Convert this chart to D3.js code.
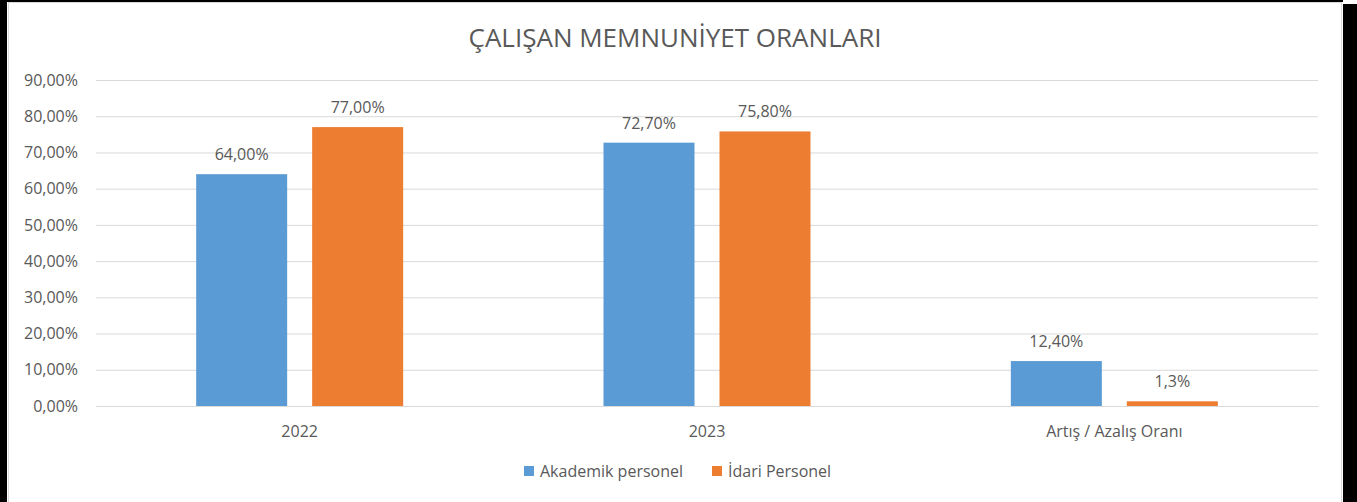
<!DOCTYPE html>
<html>
<head>
<meta charset="utf-8">
<script src="https://cdn.jsdelivr.net/npm/d3@7"></script>
<style>
  body { margin: 0; background: #fff; }
  svg text { font-family: "Open Sans", sans-serif; fill: #595959; }
</style>
</head>
<body>
<div id="chart"></div>
<script>
// chart data
var categories = ["2022", "2023", "Artış / Azalış Oranı"];
var seriesNames = ["Akademik personel", "İdari Personel"];
var akademik = [64.0, 72.7, 12.4];
var idari = [77.0, 75.8, 1.3];
var akademikLabels = ["64,00%", "72,70%", "12,40%"];
var idariLabels = ["77,00%", "75,80%", "1,3%"];
var yTicks = [0, 10, 20, 30, 40, 50, 60, 70, 80, 90];
var colors = ["#5B9BD5", "#ED7D31"];

var svgWidth = 1357;
var svgHeight = 502;

var svg = d3.select("#chart")
  .append("svg")
  .attr("width", svgWidth)
  .attr("height", svgHeight);

// black frame / shadow around the chart
svg.append("rect").attr("x", 0).attr("y", 0).attr("width", 7).attr("height", svgHeight).attr("fill", "#000");
svg.append("rect").attr("x", 0).attr("y", 0).attr("width", 1343).attr("height", 2).attr("fill", "#000");
svg.append("rect").attr("x", 1343).attr("y", 4).attr("width", 14).attr("height", svgHeight).attr("fill", "#000");

// chart area border
svg.append("rect")
  .attr("x", 8.5).attr("y", 2.5)
  .attr("width", 1333).attr("height", 520)
  .attr("fill", "#fff")
  .attr("stroke", "#d9d9d9");

var margin = { top: 80, left: 96, right: 39, bottom: 96 };
var chartWidth = svgWidth - margin.left - margin.right;
var chartHeight = 406 - margin.top;

var chartGroup = svg.append("g")
  .attr("transform", `translate(${margin.left},${margin.top})`);

var xScale = d3.scaleBand()
  .domain(categories)
  .range([0, chartWidth]);

var xInner = d3.scaleBand()
  .domain(seriesNames)
  .range([xScale.bandwidth() / 2 - 103.5, xScale.bandwidth() / 2 + 103.5])
  .paddingInner(0.2155);

var yScale = d3.scaleLinear()
  .domain([0, 90])
  .range([chartHeight, 0]);

// gridlines
var grid = d3.axisLeft(yScale)
  .tickValues(yTicks)
  .tickSize(-chartWidth)
  .tickFormat(d => d3.format(".2f")(d).replace(".", ",") + "%")
  .tickPadding(18);

var gy = chartGroup.append("g").call(grid);
gy.select(".domain").remove();
gy.selectAll("line").attr("stroke", "#d9d9d9");
gy.selectAll("text").attr("font-size", "16px").style("fill", "#595959");

// bars
var rows = categories.map(function (c, i) {
  return [
    { cat: c, name: seriesNames[0], value: akademik[i], label: akademikLabels[i], color: colors[0] },
    { cat: c, name: seriesNames[1], value: idari[i], label: idariLabels[i], color: colors[1] }
  ];
});

var groups = chartGroup.selectAll(".cat")
  .data(rows)
  .enter()
  .append("g")
  .attr("class", "cat")
  .attr("transform", (d, i) => `translate(${xScale(categories[i])},0)`);

groups.selectAll("rect")
  .data(d => d)
  .enter()
  .append("rect")
  .attr("x", d => xInner(d.name))
  .attr("width", xInner.bandwidth())
  .attr("y", d => yScale(d.value))
  .attr("height", d => chartHeight - yScale(d.value))
  .attr("fill", d => d.color);

groups.selectAll(".lbl")
  .data(d => d)
  .enter()
  .append("text")
  .attr("class", "lbl")
  .attr("x", d => xInner(d.name) + xInner.bandwidth() / 2)
  .attr("y", d => yScale(d.value) - 14)
  .attr("text-anchor", "middle")
  .attr("font-size", "16px")
  .text(d => d.label);

// x axis
var xAxis = d3.axisBottom(xScale).tickSize(0).tickPadding(20);
var gx = chartGroup.append("g")
  .attr("transform", `translate(0,${chartHeight})`)
  .call(xAxis);
gx.select(".domain").attr("stroke", "#d9d9d9");
gx.selectAll("text").attr("font-size", "16px").style("fill", "#595959");

// title
svg.append("text")
  .attr("x", 675)
  .attr("y", 47)
  .attr("text-anchor", "middle")
  .attr("font-size", "26px")
  .text("ÇALIŞAN MEMNUNİYET ORANLARI");

// legend
var legendX = [524, 712];
var legend = svg.selectAll(".legend")
  .data(seriesNames)
  .enter()
  .append("g")
  .attr("class", "legend")
  .attr("transform", (d, i) => `translate(${legendX[i]},466)`);

legend.append("rect")
  .attr("width", 10).attr("height", 10)
  .attr("fill", (d, i) => colors[i]);

legend.append("text")
  .attr("x", 16)
  .attr("y", 11)
  .attr("font-size", "16px")
  .text(d => d);
</script>
</body>
</html>
